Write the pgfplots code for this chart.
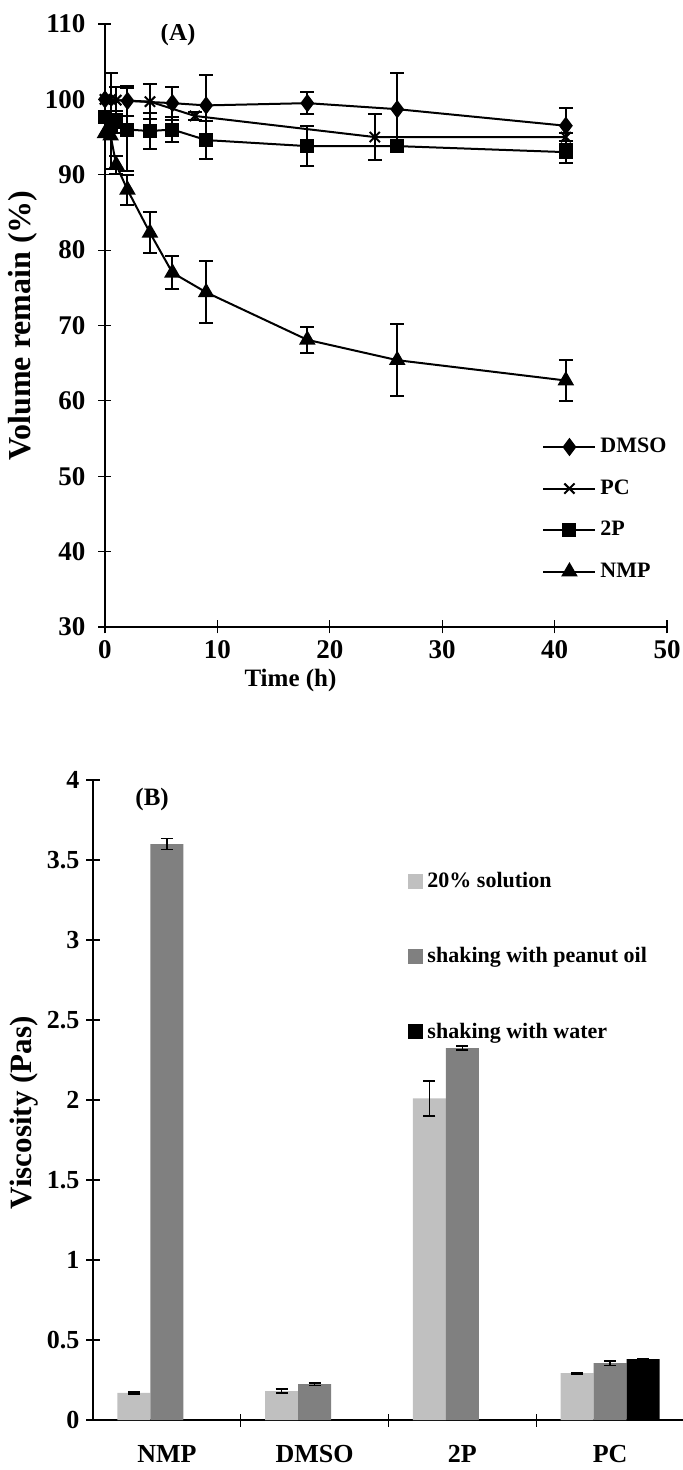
\documentclass[border=0pt]{standalone}
\usepackage{fontspec}
\setmainfont{Liberation Serif}
\usepackage{pgfplots}
\pgfplotsset{compat=1.18}
\definecolor{lightbar}{RGB}{192,192,192}
\definecolor{darkbar}{RGB}{128,128,128}
\begin{document}
\begin{tikzpicture}
\useasboundingbox (-52.5pt,-421.5pt) rectangle (289pt,313.5pt);
% ---------------- (A) ----------------
\begin{axis}[
  at={(0pt,0pt)}, anchor=south west, scale only axis,
  width=281pt, height=301.5pt,
  xmin=0, xmax=50, ymin=30, ymax=110,
  axis lines*=left, axis line style={line width=0.6pt, black},
  xtick={0,10,...,50}, ytick={30,40,...,110},
  tick align=center, major tick length=6.5pt,
  tick style={line width=0.6pt, black},
  tick label style={font=\bfseries\fontsize{13.5}{15}\selectfont},
  yticklabel style={xshift=-3pt},
  /pgf/number format/assume math mode=true,
  xlabel={Time (h)},
  xlabel style={font=\bfseries\fontsize{12.5}{14}\selectfont, at={([yshift=-26.5pt]rel axis cs:0.33,0)}, anchor=center},
  ylabel={Volume remain (\%)},
  ylabel style={font=\bfseries\fontsize{16}{18}\selectfont, at={([xshift=-41pt]rel axis cs:0,0.5)}, anchor=center},
  legend style={at={(0.767,0.327)}, anchor=north west, draw=none, fill=none,
    font=\bfseries\fontsize{11}{13}\selectfont, row sep=8pt},
  legend cell align=left,
  legend image code/.code={\draw[mark repeat=2, mark phase=2, #1] plot coordinates {(0pt,0pt) (13pt,0pt) (26pt,0pt)};},
  error bars/error bar style={line width=1pt, black},
  error bars/error mark options={rotate=90, mark size=3.5pt, line width=1pt, black},
]
\node[font=\bfseries\fontsize{12.5}{14}\selectfont] at (axis cs:6.5,108.6) {(A)};
\addplot[black, line width=1pt, mark=diamond*, mark size=3.8pt, mark options={solid, fill=black},
  error bars/.cd, y dir=both, y explicit] coordinates {
  (0,100) +- (0,0.5)
  (2,99.8) +- (0,2.0)
  (6,99.5) +- (0,2.2)
  (9,99.2) +- (0,4.0)
  (18,99.5) +- (0,1.5)
  (26,98.7) +- (0,4.8)
  (41,96.5) +- (0,2.4)
};
\addlegendentry{DMSO}
\addplot[black, line width=1pt, mark=x, mark size=3.6pt, mark options={solid},
  error bars/.cd, y dir=both, y explicit] coordinates {
  (0,100) +- (0,0.3)
  (0.5,100) +- (0,3.5)
  (1,99.9) +- (0,1.8)
  (4,99.7) +- (0,2.3)
  (8,97.8) +- (0,0.5)
  (24,95.0) +- (0,3.0)
  (41,95.0) +- (0,0.5)
};
\addlegendentry{PC}
\addplot[black, line width=1pt, mark=square*, mark size=3pt, mark options={solid, fill=black},
  error bars/.cd, y dir=both, y explicit] coordinates {
  (0,97.7) +- (0,0.5)
  (0.5,96.8) +- (0,1.0)
  (1,97.0) +- (0,1.5)
  (2,96.0) +- (0,5.5)
  (4,95.8) +- (0,2.4)
  (6,96.0) +- (0,1.7)
  (9,94.6) +- (0,2.5)
  (18,93.8) +- (0,2.7)
  (26,93.8) +- (0,0.5)
  (41,93.0) +- (0,1.5)
};
\addlegendentry{2P}
\addplot[black, line width=1pt, mark=triangle*, mark size=3.8pt, mark options={solid, fill=black},
  error bars/.cd, y dir=both, y explicit] coordinates {
  (0,95.5) +- (0,0.5)
  (0.5,95.2) +- (0,4.5)
  (1,91.3) +- (0,1.2)
  (2,88.0) +- (0,2.0)
  (4,82.3) +- (0,2.7)
  (6,77.0) +- (0,2.2)
  (9,74.4) +- (0,4.1)
  (18,68.1) +- (0,1.7)
  (26,65.4) +- (0,4.8)
  (41,62.7) +- (0,2.7)
};
\addlegendentry{NMP}
\end{axis}
% ---------------- (B) ----------------
\begin{axis}[
  at={(-6pt,-396.5pt)}, anchor=south west, scale only axis,
  width=295.5pt, height=320pt,
  ybar=0pt, bar width=16.5pt,
  xmin=-0.5, xmax=3.5, ymin=0, ymax=4,
  axis lines*=left, axis line style={line width=0.6pt, black},
  xtick={0,1,2,3}, xticklabels={NMP,DMSO,2P,PC},
  major x tick style={draw=none},
  minor xtick={0.5,1.5,2.5}, minor tick length=6.5pt,
  ytick={0,0.5,...,4}, yticklabels={0,0.5,1,1.5,2,2.5,3,3.5,4},
  tick align=center, major tick length=6.5pt,
  tick style={line width=0.6pt, black},
  tick label style={font=\bfseries\fontsize{13}{15}\selectfont},
  xticklabel style={yshift=-6pt},
  /pgf/number format/assume math mode=true,
  ylabel={Viscosity (Pas)},
  ylabel style={font=\bfseries\fontsize{15.5}{17}\selectfont, at={([xshift=-34.5pt]rel axis cs:0,0.48)}, anchor=center},
  legend style={at={(0.523,0.869)}, anchor=north west, draw=none, fill=none,
    font=\bfseries\fontsize{11}{13}\selectfont, row sep=24.5pt},
  legend cell align=left,
  legend image code/.code={\fill[#1] (0pt,-3.75pt) rectangle (7.5pt,3.75pt);},
  error bars/error bar style={line width=0.8pt, black},
  error bars/error mark options={rotate=90, mark size=3pt, line width=0.8pt, black},
]
\node[font=\bfseries\fontsize{12.5}{14}\selectfont] at (axis cs:-0.1,3.88) {(B)};
\addplot[fill=lightbar, draw=none, error bars/.cd, y dir=both, y explicit] coordinates {
  (0,0.17) +- (0,0.006)
  (1,0.18) +- (0,0.012)
  (2,2.01) +- (0,0.11)
  (3,0.293) +- (0,0.004)
};
\addlegendentry{20\% solution}
\addplot[fill=darkbar, draw=none, error bars/.cd, y dir=both, y explicit] coordinates {
  (0,3.60) +- (0,0.035)
  (1,0.224) +- (0,0.008)
  (2,2.325) +- (0,0.012)
  (3,0.355) +- (0,0.015)
};
\addlegendentry{shaking with peanut oil}
\addplot[fill=black, draw=none, error bars/.cd, y dir=both, y explicit] coordinates {
  (0,0.002) +- (0,0.002)
  (1,0.002) +- (0,0.002)
  (2,0.002) +- (0,0.002)
  (3,0.38) +- (0,0)
};
\addlegendentry{shaking with water}
\end{axis}
\end{tikzpicture}
\end{document}
